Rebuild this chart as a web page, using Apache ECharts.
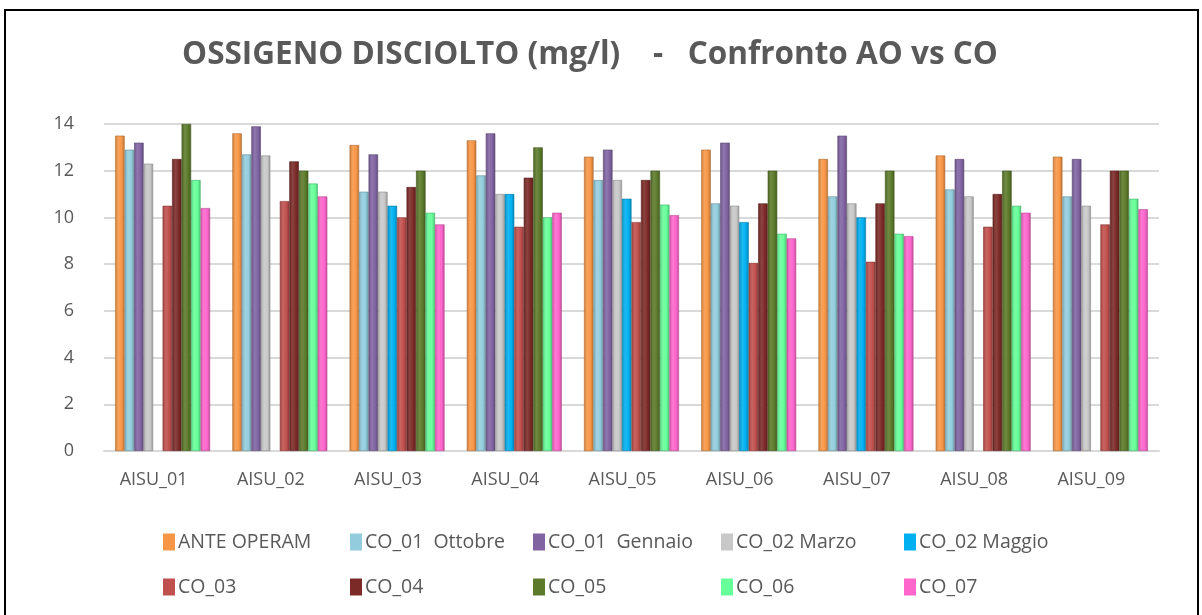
<!DOCTYPE html>
<html><head><meta charset="utf-8">
<script src="https://cdn.jsdelivr.net/npm/echarts@6/dist/echarts.min.js"></script>
<style>html,body{margin:0;padding:0;background:#fff}#c{width:1202px;height:615px}</style>
</head><body><div id="c"></div>
<script>
const categories = ['AISU_01','AISU_02','AISU_03','AISU_04','AISU_05','AISU_06','AISU_07','AISU_08','AISU_09'];
const seriesNames = ['ANTE OPERAM','CO_01  Ottobre','CO_01  Gennaio','CO_02 Marzo','CO_02 Maggio','CO_03','CO_04','CO_05','CO_06','CO_07'];
const anteOperam = [13.5, 13.6, 13.1, 13.3, 12.6, 12.9, 12.5, 12.65, 12.6];
const co01Ottobre = [12.9, 12.7, 11.1, 11.8, 11.6, 10.6, 10.9, 11.2, 10.9];
const co01Gennaio = [13.2, 13.9, 12.7, 13.6, 12.9, 13.2, 13.5, 12.5, 12.5];
const co02Marzo = [12.3, 12.65, 11.1, 11.0, 11.6, 10.5, 10.6, 10.9, 10.5];
const co02Maggio = [null, null, 10.5, 11.0, 10.8, 9.8, 10.0, null, null];
const co03 = [10.5, 10.7, 10.0, 9.6, 9.8, 8.05, 8.1, 9.6, 9.7];
const co04 = [12.5, 12.4, 11.3, 11.7, 11.6, 10.6, 10.6, 11.0, 12.0];
const co05 = [14.0, 12.0, 12.0, 13.0, 12.0, 12.0, 12.0, 12.0, 12.0];
const co06 = [11.6, 11.45, 10.2, 10.0, 10.55, 9.3, 9.3, 10.5, 10.8];
const co07 = [10.4, 10.9, 9.7, 10.2, 10.1, 9.1, 9.2, 10.2, 10.35];
const yTicks = [0, 2, 4, 6, 8, 10, 12, 14];

const allValues = [anteOperam, co01Ottobre, co01Gennaio, co02Marzo, co02Maggio, co03, co04, co05, co06, co07];
const colors = ['#F79646','#93CDDD','#8064A2','#C8C8C8','#00B0F0','#C0504D','#7B2A27','#5C7A2A','#66FF99','#FF66CC'];

function shade(hex, f){
  const n = parseInt(hex.slice(1),16);
  let r=(n>>16)&255,g=(n>>8)&255,b=n&255;
  if(f<0){r=Math.round(r*(1+f));g=Math.round(g*(1+f));b=Math.round(b*(1+f));}
  else{r=Math.round(r+(255-r)*f);g=Math.round(g+(255-g)*f);b=Math.round(b+(255-b)*f);}
  return 'rgb('+r+','+g+','+b+')';
}
function grad(c){
  return new echarts.graphic.LinearGradient(0,0,1,0,[
    {offset:0,color:shade(c,-0.15)},
    {offset:0.35,color:shade(c,0.12)},
    {offset:0.7,color:c},
    {offset:1,color:shade(c,-0.25)}
  ]);
}

const series = seriesNames.map((n,i)=>({
  name:n, type:'bar', data: allValues[i],
  barGap:'0%', barCategoryGap:'19%',
  itemStyle:{color:grad(colors[i]), borderColor:shade(colors[i],-0.3), borderWidth:0.6}
}));

const legendLeft = [158, 345, 528, 716, 899];
const legends = seriesNames.map((n,i)=>({
  data:[{name:n, itemStyle:{color:colors[i], borderWidth:0}}],
  left: legendLeft[i%5], top: i<5 ? 527 : 572,
  itemWidth:12, itemHeight:17, itemGap:6,
  icon:'rect',
  itemStyle:{borderWidth:0},
  textStyle:{fontFamily:'Open Sans', fontSize:19.5, color:'#595959', padding:[0,0,0,-2]},
  selectedMode:false
}));

const chart = echarts.init(document.getElementById('c'), null, {renderer:'canvas'});
chart.setOption({
  animation:false,
  backgroundColor:'#fff',
  color: colors,
  title:{
    text:'OSSIGENO DISCIOLTO (mg/l)    -   Confronto AO vs CO',
    left:585, top:34, textAlign:'center',
    textStyle:{fontFamily:'Open Sans', fontWeight:'bold', fontSize:31.5, color:'#595959'}
  },
  graphic:[{type:'rect', shape:{x:5,y:10,width:1193,height:640}, style:{fill:'none', stroke:'#000', lineWidth:2}, silent:true}],
  legend: legends,
  grid:{left:104, right:43, top:124, bottom:164, containLabel:false},
  xAxis:{
    type:'category', data:categories,
    axisLine:{show:true, lineStyle:{color:'#d9d9d9', width:2}},
    axisTick:{show:false},
    axisLabel:{fontFamily:'Open Sans', fontSize:18, color:'#595959', margin:20, padding:[0,18,0,0]}
  },
  yAxis:{
    type:'value', min:0, max:14, interval:2,
    axisLine:{show:false}, axisTick:{show:false},
    splitLine:{lineStyle:{color:'#d9d9d9', width:2}},
    axisLabel:{fontFamily:'Open Sans', fontSize:18, color:'#595959', margin:30,
      formatter:v=>yTicks.includes(v)?String(v):''}
  },
  series: series
});
</script>
</body></html>
